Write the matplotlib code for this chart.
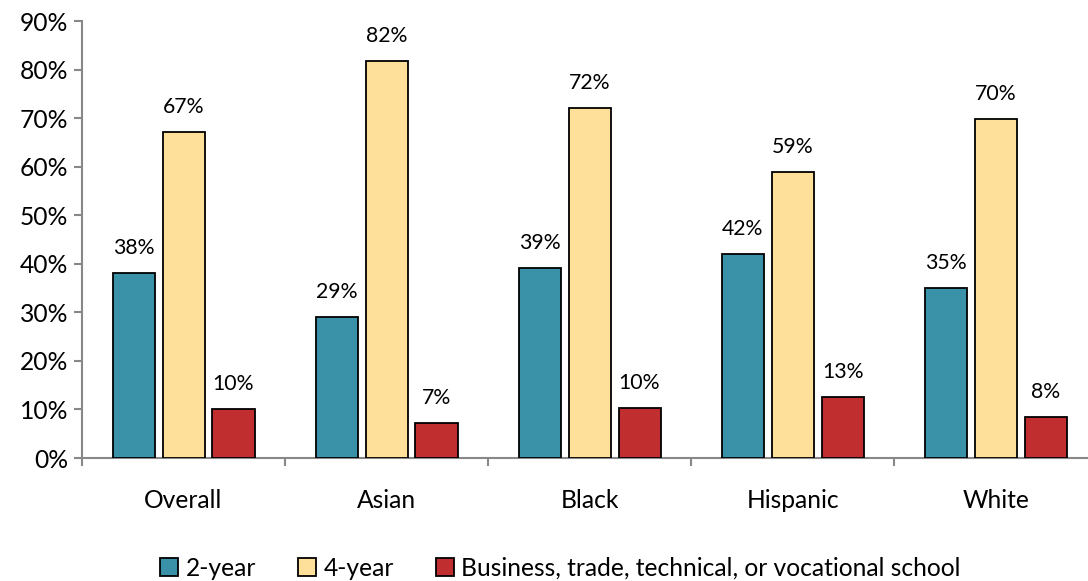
import numpy as np
import matplotlib
matplotlib.use("Agg")
from matplotlib import pyplot as plt

plt.rcParams['font.family'] = ['Lato', 'DejaVu Sans']

categories = ["Overall", "Asian", "Black", "Hispanic", "White"]
series_names = ["2-year", "4-year", "Business, trade, technical, or vocational school"]
two_year = [38.1, 29.0, 39.1, 42.0, 35.0]
four_year = [67.1, 81.8, 72.2, 58.9, 69.8]
business = [10.1, 7.2, 10.3, 12.6, 8.4]
colors = ["#3A92A8", "#FEE09A", "#C12E2F"]
yticks = np.arange(0, 100, 10)

fig = plt.figure(figsize=(10.88, 5.81), dpi=100)
ax = fig.add_axes([0.0754, 0.2117, 0.933, 0.752])

x = np.arange(len(categories))
width = 0.207
step = 0.246
for i, (vals, col, name) in enumerate(zip([two_year, four_year, business], colors, series_names)):
    pos = x + (i - 1) * step
    bars = ax.bar(pos, vals, width, color=col, edgecolor="black", linewidth=1.3, label=name, zorder=3)
    for b, v in zip(bars, vals):
        ax.annotate(f"{round(v):.0f}%", (b.get_x() + b.get_width() / 2, v),
                    xytext=(0, 18), textcoords="offset points",
                    ha="center", va="center", fontsize=15.3)

ax.set_xlim(-0.5, len(categories) - 0.5)
ax.set_ylim(0, 90)
ax.set_yticks(yticks)
ax.set_yticklabels([f"{t}%" for t in yticks], fontsize=17.7)
ax.set_xticks(np.arange(-0.5, len(categories), 1.0))
ax.set_xticklabels([])
ax.set_xticks(x, minor=True)
ax.set_xticklabels(categories, minor=True, fontsize=17.7)
ax.tick_params(axis="x", which="minor", length=0, pad=22)
ax.tick_params(axis="x", which="major", length=6, width=1.5, color="#888888")
ax.tick_params(axis="y", length=6, width=1.5, color="#888888", pad=4)

for s in ["top", "right"]:
    ax.spines[s].set_visible(False)
for s in ["left", "bottom"]:
    ax.spines[s].set_color("#888888")
    ax.spines[s].set_linewidth(1.5)

ax.legend(loc="center", bbox_to_anchor=(0.515, 0.0215), bbox_transform=fig.transFigure,
          ncol=3, frameon=False, fontsize=17.7, handlelength=0.75, handleheight=0.75,
          handletextpad=0.3, columnspacing=1.7)

fig.savefig("out.png", dpi=100)
